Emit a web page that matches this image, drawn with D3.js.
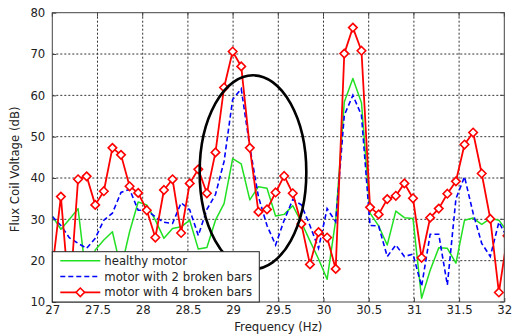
<!DOCTYPE html>
<html>
<head>
<meta charset="utf-8">
<script src="https://cdn.jsdelivr.net/npm/d3@7"></script>
<style>
  body { margin: 0; background: #fff; }
  svg text { font-family: "DejaVu Sans", sans-serif; fill: #222; }
</style>
</head>
<body>
<div id="chart"></div>
<script>
// frequency bins (Hz)
const freq = [27.000, 27.095, 27.190, 27.285, 27.380, 27.475, 27.570, 27.665, 27.760, 27.855,
              27.950, 28.045, 28.140, 28.235, 28.330, 28.425, 28.520, 28.615, 28.710, 28.805,
              28.900, 28.995, 29.090, 29.185, 29.280, 29.375, 29.470, 29.565, 29.660, 29.755,
              29.850, 29.945, 30.040, 30.135, 30.230, 30.325, 30.420, 30.515, 30.610, 30.705,
              30.800, 30.895, 30.990, 31.085, 31.180, 31.275, 31.370, 31.465, 31.560, 31.655,
              31.750, 31.845, 31.940, 32.035];

// flux coil voltage (dB)
const healthy = [30.8, 27.6, 30.0, 32.6, 15.0, 22.6, 25.0, 27.0, 18.0, 27.0,
                 34.2, 33.5, 29.8, 25.4, 27.8, 28.2, 29.8, 22.8, 23.2, 29.8,
                 33.8, 44.7, 43.4, 34.7, 37.9, 37.5, 30.8, 31.2, 33.3, 29.3,
                 24.8, 20.4, 15.5, 29.8, 58.4, 64.1, 58.2, 31.5, 28.4, 23.8,
                 32.0, 30.4, 30.2, 10.9, 17.7, 23.1, 23.0, 19.4, 29.8, 30.3,
                 28.8, 30.2, 29.8, 27.0];
const broken2 = [30.7, 28.5, 25.5, 24.2, 23.0, 25.4, 29.8, 31.5, 36.5, 37.3,
                 32.2, 32.2, 30.6, 29.3, 29.0, 34.0, 32.3, 26.1, 32.4, 36.0,
                 44.0, 59.0, 61.6, 47.5, 35.5, 28.5, 23.8, 29.8, 34.8, 33.5,
                 28.5, 23.0, 32.6, 29.4, 55.2, 60.0, 55.2, 28.5, 28.4, 21.0,
                 23.8, 21.0, 21.6, 13.8, 26.4, 26.4, 14.1, 35.0, 40.3, 31.5,
                 24.2, 21.0, 29.3, 25.5];
const broken4 = [18.0, 35.5, 10.5, 39.7, 40.4, 33.5, 36.8, 47.3, 45.6, 38.0,
                 36.4, 32.2, 25.6, 37.1, 39.7, 26.7, 38.7, 42.1, 36.3, 46.2,
                 61.9, 70.6, 67.0, 47.3, 31.8, 32.4, 36.5, 40.5, 36.3, 28.9,
                 19.1, 26.9, 25.6, 18.0, 70.1, 76.4, 70.8, 32.9, 31.2, 34.9,
                 35.7, 38.7, 35.1, 20.7, 30.4, 32.6, 36.2, 39.2, 48.1, 51.0,
                 41.1, 30.1, 12.3, 26.0];

const xTicks = [27, 27.5, 28, 28.5, 29, 29.5, 30, 30.5, 31, 31.5, 32];
const yTicks = [10, 20, 30, 40, 50, 60, 70, 80];
const seriesNames = ["healthy motor", "motor with 2 broken bars", "motor with 4 broken bars"];

const W = 514, H = 336;
const margin = {top: 12.7, right: 10, bottom: 34, left: 52.3};
const chtW = 504.3 - margin.left;
const chtH = 302 - margin.top;
const fs = "11.7px";

const svg = d3.select("#chart").append("svg").attr("width", W).attr("height", H);
const g = svg.append("g").attr("transform", "translate(" + margin.left + "," + margin.top + ")");

const x = d3.scaleLinear().domain([27, 32]).range([0, chtW]);
const y = d3.scaleLinear().domain([10, 80]).range([chtH, 0]);

svg.append("defs").append("clipPath").attr("id", "clip")
  .append("rect").attr("width", chtW).attr("height", chtH);

// grid
g.append("g").selectAll("line").data(xTicks.slice(1, -1)).join("line")
  .attr("x1", d => x(d)).attr("x2", d => x(d)).attr("y1", 0).attr("y2", chtH)
  .attr("stroke", "#333").attr("stroke-dasharray", "2,2").attr("stroke-width", 1);
g.append("g").selectAll("line").data(yTicks.slice(1, -1)).join("line")
  .attr("y1", d => y(d)).attr("y2", d => y(d)).attr("x1", 0).attr("x2", chtW)
  .attr("stroke", "#333").attr("stroke-dasharray", "2,2").attr("stroke-width", 1);

// axes
const xAxis = d3.axisBottom(x).tickValues(xTicks).tickSize(-4).tickPadding(4).tickFormat(d3.format("~g"));
const yAxis = d3.axisLeft(y).tickValues(yTicks).tickSize(-4).tickPadding(7);
const gx = g.append("g").attr("transform", "translate(0," + chtH + ")").call(xAxis);
const gy = g.append("g").call(yAxis);
[gx, gy].forEach(a => {
  a.select(".domain").remove();
  a.selectAll("line").attr("stroke", "#444");
  a.selectAll("text").style("font-size", fs).attr("fill", "#222");
});
// top / right ticks
g.append("g").selectAll("line").data(xTicks).join("line")
  .attr("x1", d => x(d)).attr("x2", d => x(d)).attr("y1", 0).attr("y2", 4).attr("stroke", "#444");
g.append("g").selectAll("line").data(yTicks).join("line")
  .attr("y1", d => y(d)).attr("y2", d => y(d)).attr("x1", chtW).attr("x2", chtW - 4).attr("stroke", "#444");

// series
const line = d3.line().x((d, i) => x(freq[i])).y(d => y(d));
const plot = g.append("g").attr("clip-path", "url(#clip)");

plot.append("path").datum(healthy)
  .attr("fill", "none").attr("stroke", "#22e022").attr("stroke-width", 1.5)
  .attr("stroke-linejoin", "round").attr("d", line);

plot.append("path").datum(broken2)
  .attr("fill", "none").attr("stroke", "#0000ff").attr("stroke-width", 1.6)
  .attr("stroke-dasharray", "5,3").attr("d", line);

plot.append("path").datum(broken4)
  .attr("fill", "none").attr("stroke", "#ff0000").attr("stroke-width", 1.8)
  .attr("stroke-linejoin", "round").attr("d", line);

const diamond = d3.symbol().type(d3.symbolDiamond2).size(46);
plot.append("g").selectAll("path").data(broken4).join("path")
  .attr("transform", (d, i) => "translate(" + x(freq[i]) + "," + y(d) + ")")
  .attr("d", diamond).attr("fill", "#fff").attr("stroke", "#ff0000").attr("stroke-width", 1.6);

// ellipse annotation
g.append("ellipse")
  .attr("cx", x(29.22)).attr("cy", y(41.4))
  .attr("rx", x(29.81) - x(29.22)).attr("ry", y(41.4) - y(64.85))
  .attr("fill", "none").attr("stroke", "#000").attr("stroke-width", 2.6);

// frame
g.append("rect").attr("width", chtW).attr("height", chtH)
  .attr("fill", "none").attr("stroke", "#444").attr("stroke-width", 1);

// legend
const lg = g.append("g");
lg.append("rect").attr("x", 0).attr("y", 239).attr("width", 207).attr("height", chtH - 239)
  .attr("fill", "#fff").attr("stroke", "#222").attr("stroke-width", 1);
const styles = [
  {c: "#22e022", dash: null, w: 1.5, mark: false},
  {c: "#0000ff", dash: "5,3", w: 1.6, mark: false},
  {c: "#ff0000", dash: null, w: 1.8, mark: true}
];
seriesNames.forEach((name, i) => {
  const ly = 248 + i * 15.8;
  const s = styles[i];
  lg.append("line").attr("x1", 8).attr("x2", 48).attr("y1", ly).attr("y2", ly)
    .attr("stroke", s.c).attr("stroke-width", s.w).attr("stroke-dasharray", s.dash);
  if (s.mark) {
    lg.append("path").attr("transform", "translate(28," + ly + ")").attr("d", diamond)
      .attr("fill", "#fff").attr("stroke", s.c).attr("stroke-width", 1.6);
  }
  lg.append("text").attr("x", 52).attr("y", ly).attr("dy", "0.36em")
    .style("font-size", fs).text(name);
});

// axis titles
svg.append("text").attr("x", margin.left + chtW / 2).attr("y", 331)
  .attr("text-anchor", "middle").style("font-size", fs).text("Frequency (Hz)");
svg.append("text").attr("transform", "translate(19," + (margin.top + chtH / 2 + 12) + ") rotate(-90)")
  .attr("text-anchor", "middle").style("font-size", fs).text("Flux Coil Voltage (dB)");
</script>
</body>
</html>
